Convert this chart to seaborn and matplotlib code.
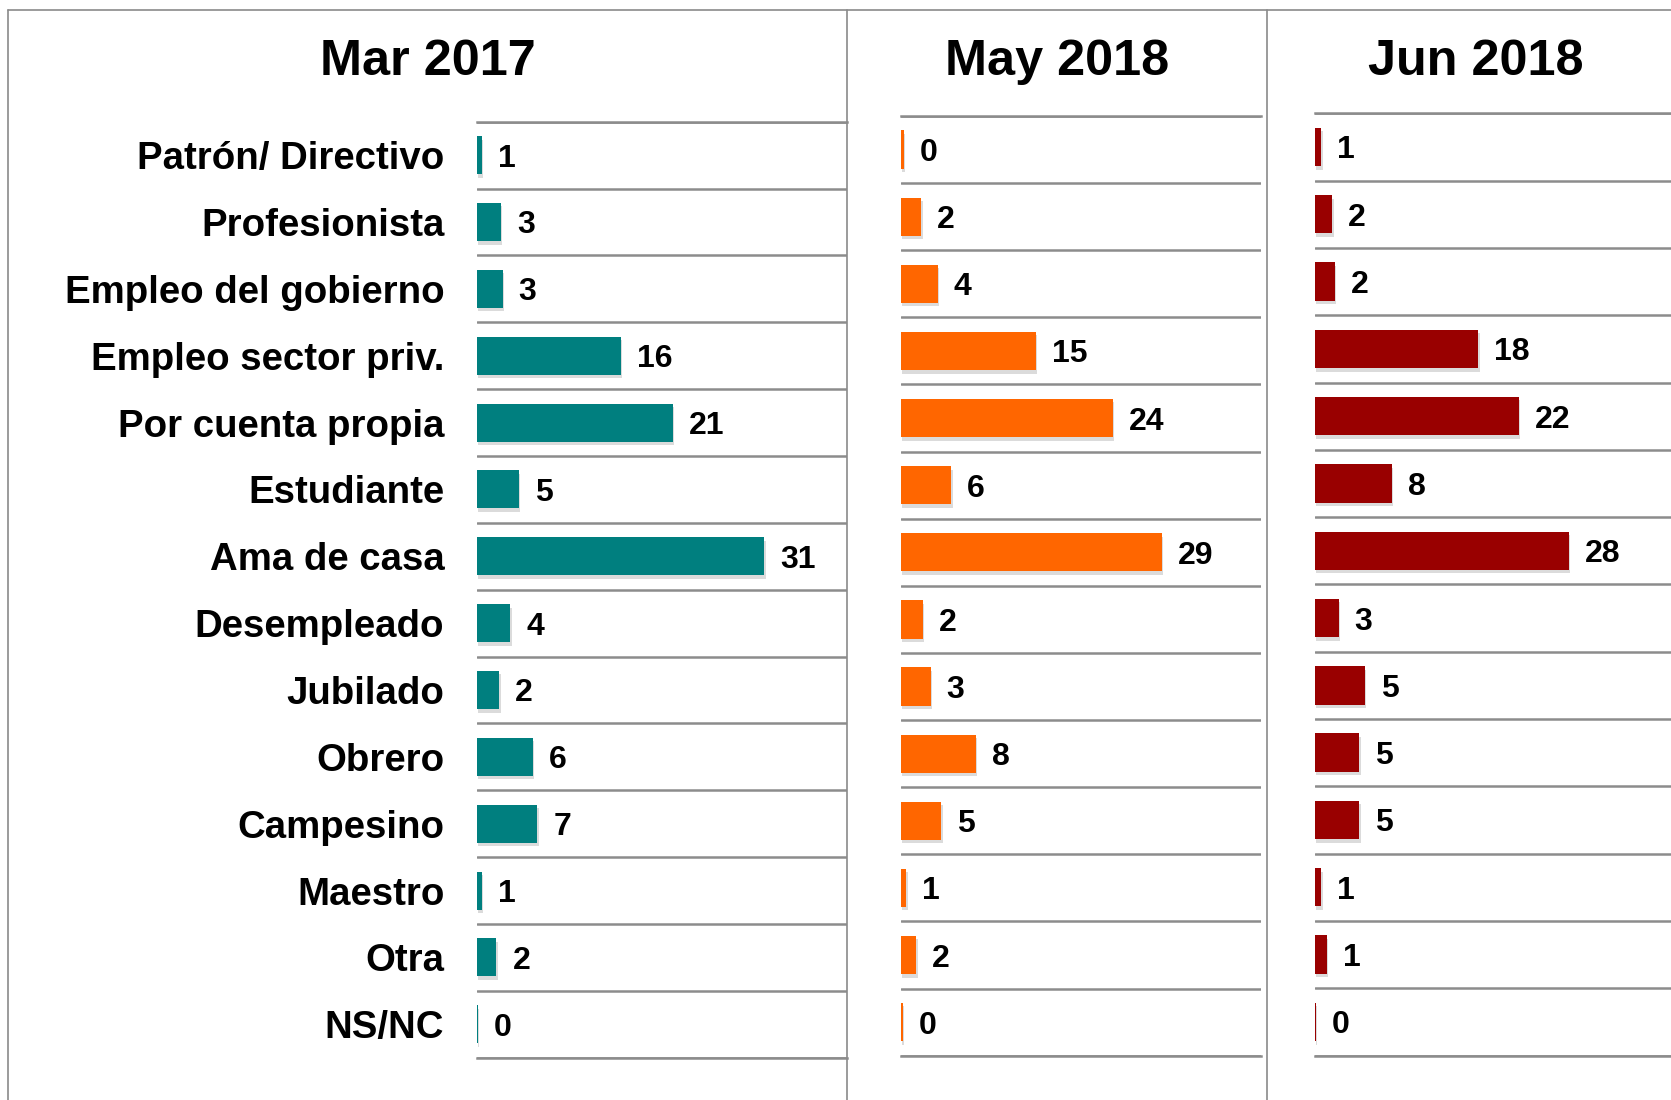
import numpy as np
import pandas as pd
import matplotlib
matplotlib.use("Agg")
import matplotlib.pyplot as plt
import matplotlib.patheffects as pe
from matplotlib.lines import Line2D
import seaborn as sns

categories = ["Patrón/ Directivo", "Profesionista", "Empleo del gobierno",
              "Empleo sector priv.", "Por cuenta propia", "Estudiante",
              "Ama de casa", "Desempleado", "Jubilado", "Obrero",
              "Campesino", "Maestro", "Otra", "NS/NC"]

periods = ["Mar 2017", "May 2018", "Jun 2018"]

# printed labels (rounded)
labels_mar17 = [1, 3, 3, 16, 21, 5, 31, 4, 2, 6, 7, 1, 2, 0]
labels_may18 = [0, 2, 4, 15, 24, 6, 29, 2, 3, 8, 5, 1, 2, 0]
labels_jun18 = [1, 2, 2, 18, 22, 8, 28, 3, 5, 5, 5, 1, 1, 0]

# bar lengths as drawn
values_mar17 = [0.5, 2.6, 2.75, 15.5, 21.1, 4.5, 31, 3.6, 2.4, 6.0, 6.5, 0.5, 2.1, 0.1]
values_may18 = [0.3, 2.25, 4.1, 15.0, 23.5, 5.6, 29, 2.4, 3.3, 8.3, 4.5, 0.6, 1.7, 0.2]
values_jun18 = [0.7, 1.9, 2.2, 18, 22.5, 8.5, 28, 2.6, 5.5, 4.9, 4.9, 0.7, 1.3, 0.1]

colors = ["#007F7F", "#FF6600", "#990000"]

sns.set_style("white")
plt.rcParams["font.family"] = ["Liberation Sans", "DejaVu Sans"]
plt.rcParams["font.weight"] = "bold"
plt.rcParams["text.color"] = "black"
plt.rcParams["ytick.labelcolor"] = "black"

W, H = 1671, 1100
fig = plt.figure(figsize=(W / 100, H / 100), dpi=100)

# axes boxes in pixels: left, top, width, bottom
boxes = [(477, 121.7, 370, 1057.7),
         (901, 116.0, 360, 1055.7),
         (1315, 113.3, 370, 1055.5)]
xmax = [39.9, 40.0, 40.8]
title_x = [428, 1057, 1476]

series = [(values_mar17, labels_mar17), (values_may18, labels_may18),
          (values_jun18, labels_jun18)]

grid_col = "#8c8c8c"

for k, (vals, labs) in enumerate(series):
    left, top, width, bottom = boxes[k]
    ax = fig.add_axes([left / W, 1 - bottom / H, width / W, (bottom - top) / H])
    df = pd.DataFrame({"cat": categories, "val": vals})
    sns.barplot(data=df, x="val", y="cat", color=colors[k], saturation=1,
                width=0.57, ax=ax, orient="h", linewidth=0, edgecolor="none")
    for p in ax.patches:
        p.set_path_effects([pe.SimplePatchShadow(offset=(1, -2.5), shadow_rgbFace="#888888", alpha=0.3),
                            pe.Normal()])
    for i, (v, l) in enumerate(zip(vals, labs)):
        ax.annotate(str(l), (v, i), xytext=(11.5, 0), textcoords="offset points",
                    va="center_baseline", ha="left", fontsize=23, fontweight="bold",
                    color="black")

    ax.set_xlim(0, xmax[k])
    ax.set_ylim(len(categories) - 0.5, -0.5)
    ax.set_xlabel("")
    ax.set_ylabel("")
    ax.set_xticks([])
    ax.set_yticks(np.arange(-0.5, len(categories)), minor=True)
    ax.grid(axis="y", which="minor", color=grid_col, linewidth=1.8)
    ax.grid(axis="y", which="major", visible=False)
    ax.tick_params(axis="y", which="both", length=0)
    for s in ["left", "right"]:
        ax.spines[s].set_visible(False)
    for s in ["top", "bottom"]:
        ax.spines[s].set_color(grid_col)
        ax.spines[s].set_linewidth(1.8)
    if k == 0:
        ax.set_yticklabels(categories, fontsize=27.6, fontweight="bold", color="black")
        ax.tick_params(axis="y", which="major", pad=23.5)
    else:
        ax.set_yticklabels([])

    fig.text(title_x[k] / W, 1 - 75 / H, periods[k], ha="center", va="baseline",
             fontsize=36.3, fontweight="bold", color="black")

# panel frame
border = "#8a8a8a"
fig.add_artist(Line2D([8 / W, 1], [1 - 9.5 / H, 1 - 9.5 / H], transform=fig.transFigure,
                      color=border, linewidth=1.2))
for xp in [8, 847, 1267]:
    fig.add_artist(Line2D([xp / W, xp / W], [0, 1 - 9.5 / H], transform=fig.transFigure,
                          color=border, linewidth=1.2))

fig.savefig("out.png", dpi=100, facecolor="white")
